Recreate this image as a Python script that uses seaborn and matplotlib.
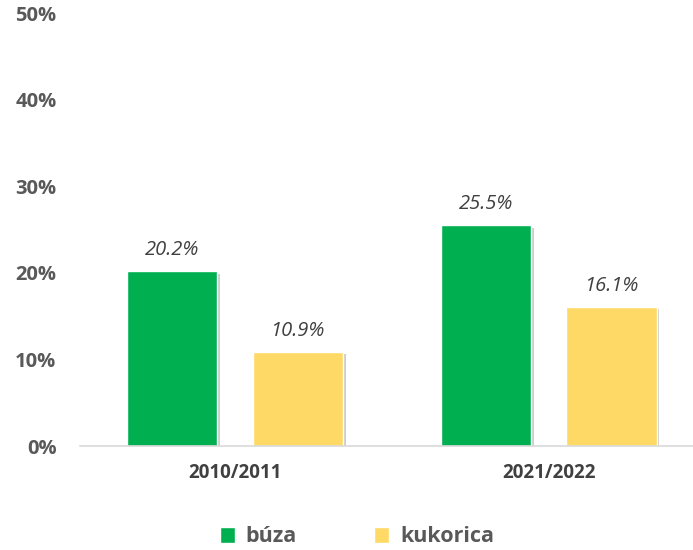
import pandas as pd
import seaborn as sns
import matplotlib.pyplot as plt
import matplotlib.patheffects as pe
from matplotlib.ticker import PercentFormatter

# Adatok
idoszakok = ["2010/2011", "2021/2022"]
buza = [0.202, 0.255]
kukorica = [0.109, 0.161]
sorozatok = ["búza", "kukorica"]
szinek = ["#00B050", "#FFD966"]

df = pd.DataFrame({
    "idoszak": idoszakok * 2,
    "ertek": buza + kukorica,
    "novény": [sorozatok[0]] * 2 + [sorozatok[1]] * 2,
})

sns.set_style("white")
plt.rcParams["font.family"] = ["Open Sans", "DejaVu Sans"]

fig = plt.figure(figsize=(6.93, 5.5), dpi=100)
ax = fig.add_axes([0.1155, 0.189, 0.8845, 0.787])

sns.barplot(data=df, x="idoszak", y="ertek", hue="novény", palette=szinek,
            width=0.8, gap=0.28, saturation=1, ax=ax, legend=True)

# Oszlopok árnyéka és címkék
for cont in ax.containers:
    for bar in cont:
        bar.set_path_effects([pe.SimplePatchShadow(offset=(2, -2), shadow_rgbFace="#9a9a9a", alpha=0.5),
                              pe.Normal()])
    ax.bar_label(cont, labels=[f"{v * 100:.1f}%" for v in cont.datavalues], padding=8,
                 fontsize=14.5, fontstyle="italic", color="#404040")

ax.set_ylim(0, 0.5)
ax.set_xlim(-0.494, 1.46)
ax.yaxis.set_major_formatter(PercentFormatter(1.0, decimals=0))
ax.set_yticks([0, 0.1, 0.2, 0.3, 0.4, 0.5])
ax.set_xlabel("")
ax.set_ylabel("")
for s in ["top", "right", "left"]:
    ax.spines[s].set_visible(False)
ax.spines["bottom"].set_color("#d9d9d9")
ax.spines["bottom"].set_linewidth(1.2)
ax.tick_params(axis="y", length=0, pad=17, labelsize=14.5, labelcolor="#595959")
ax.tick_params(axis="x", length=0, pad=12, labelsize=13.5, labelcolor="#404040")
for t in ax.get_yticklabels() + ax.get_xticklabels():
    t.set_fontweight("bold")

leg = ax.legend(loc="center", bbox_to_anchor=(357 / 693, 1 - 537 / 550), bbox_transform=fig.transFigure,
                ncol=2, frameon=False, handlelength=0.7, handleheight=0.7, columnspacing=3.6,
                handletextpad=0.5, prop={"size": 15.5, "weight": "bold"})
for t in leg.get_texts():
    t.set_color("#595959")

fig.savefig("out.png", dpi=100)
